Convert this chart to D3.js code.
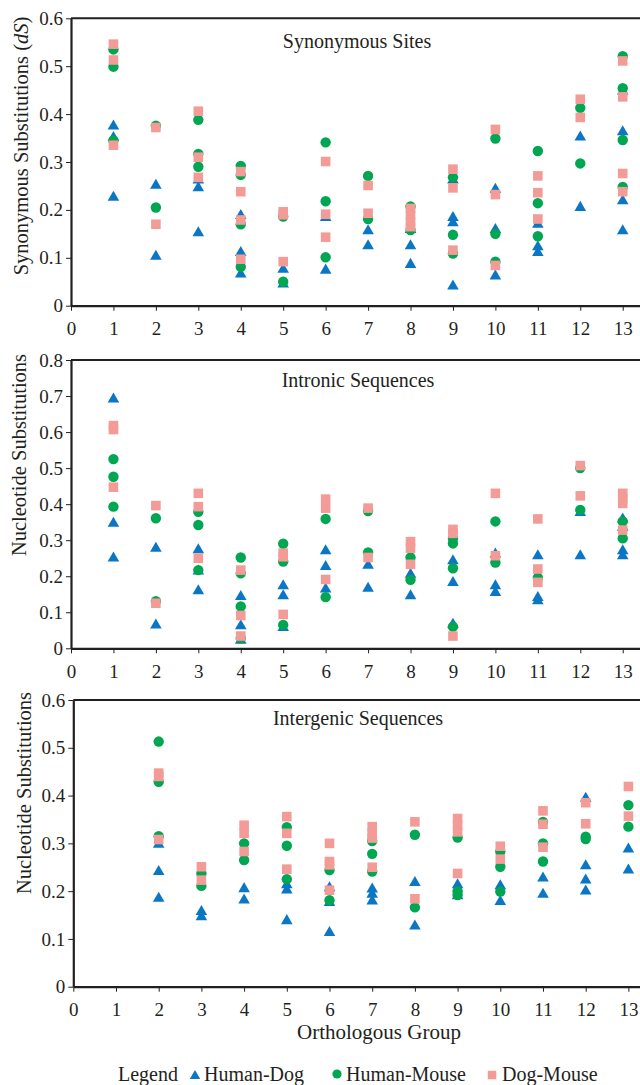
<!DOCTYPE html>
<html><head><meta charset="utf-8">
<script src="https://cdn.jsdelivr.net/npm/d3@7"></script>
<style>
html,body{margin:0;padding:0;background:#fff;}
svg{display:block;font-family:"Liberation Serif","Times New Roman",serif;}
</style></head>
<body>
<svg id="chart" width="640" height="1085"></svg>
<script>
// Orthologous groups (x categories)
const groups = [1,2,3,4,5,6,7,8,9,10,11,12,13];
const xTickValues = [0,1,2,3,4,5,6,7,8,9,10,11,12,13];
const seriesNames = ["Human-Dog","Human-Mouse","Dog-Mouse"];
const panelTitles = ["Synonymous Sites","Intronic Sequences","Intergenic Sequences"];
const yTicksSyn = [0,0.1,0.2,0.3,0.4,0.5,0.6];
const yTicksIntron = [0,0.1,0.2,0.3,0.4,0.5,0.6,0.7,0.8];
const yTicksInter = [0,0.1,0.2,0.3,0.4,0.5,0.6];

// Synonymous sites (dS), values per group 1..13
const synHD = [[0.377,0.353,0.228],[0.253,0.105],[0.264,0.248,0.154],[0.19,0.113,0.068],[0.078,0.047],[0.186,0.076],[0.158,0.127],[0.161,0.127,0.088],[0.264,0.186,0.175,0.043],[0.245,0.161,0.064],[0.172,0.125,0.113],[0.354,0.207],[0.45,0.365,0.221,0.158]];
const synHM = [[0.535,0.499,0.345],[0.376,0.205],[0.388,0.317,0.290],[0.292,0.273,0.170,0.081],[0.186,0.050],[0.341,0.218,0.101],[0.271,0.181],[0.207,0.158],[0.268,0.148,0.109],[0.349,0.150,0.092],[0.323,0.214,0.145],[0.413,0.297],[0.521,0.454,0.346,0.248]];
const synDM = [[0.546,0.513,0.335],[0.372,0.170],[0.406,0.310,0.268],[0.280,0.238,0.179,0.097],[0.196,0.190,0.092],[0.301,0.191,0.143],[0.251,0.193],[0.203,0.189,0.175,0.165],[0.285,0.246,0.116],[0.368,0.232,0.084],[0.271,0.236,0.181],[0.431,0.393],[0.511,0.436,0.276,0.238]];

// Intronic sequences
const intHD = [[0.694,0.349,0.253],[0.280,0.067],[0.276,0.217,0.162],[0.146,0.065,0.025],[0.176,0.148,0.060],[0.273,0.229,0.167],[0.233,0.169],[0.208,0.148],[0.245,0.185,0.069],[0.264,0.176,0.157],[0.259,0.143,0.134],[0.379,0.259],[0.361,0.338,0.273,0.259]];
const intHM = [[0.525,0.476,0.393],[0.361,0.131],[0.379,0.342,0.217],[0.252,0.208,0.116,0.028],[0.290,0.241,0.065],[0.359,0.142],[0.381,0.266],[0.252,0.190],[0.305,0.291,0.222,0.060],[0.352,0.238],[0.196],[0.500,0.384],[0.352,0.305]];
const intDM = [[0.618,0.607,0.447],[0.396,0.125],[0.430,0.393,0.250],[0.217,0.091,0.034],[0.264,0.254,0.094],[0.414,0.389,0.191],[0.389,0.252],[0.296,0.278,0.233],[0.330,0.319,0.034],[0.430,0.257],[0.359,0.220,0.183],[0.507,0.423],[0.430,0.416,0.402,0.328]];

// Intergenic sequences
const igHD = [[],[0.300,0.243,0.187],[0.159,0.148],[0.207,0.183],[0.215,0.204,0.140],[0.209,0.178,0.115],[0.206,0.195,0.181],[0.220,0.129],[0.215,0.192],[0.213,0.180],[0.229,0.195],[0.396,0.255,0.225,0.202],[0.290,0.246]];
const igHM = [[],[0.513,0.429,0.315],[0.237,0.211],[0.300,0.265],[0.334,0.295,0.225],[0.244,0.181],[0.305,0.278,0.241],[0.318,0.166],[0.312,0.200,0.192],[0.283,0.251,0.199],[0.345,0.300,0.262],[0.314,0.309],[0.380,0.335]];
const igDM = [[],[0.447,0.440,0.308],[0.251,0.223],[0.338,0.321,0.283],[0.356,0.321,0.246],[0.300,0.262,0.255,0.202],[0.335,0.321,0.311,0.250],[0.345,0.184],[0.352,0.338,0.324,0.237],[0.294,0.267],[0.368,0.340,0.292],[0.385,0.341],[0.419,0.357]];

const colors = {HD:"#0b76c4", HM:"#00a651", DM:"#f29b97"};
const ink = "#231f20";

const panels = [
  {title:panelTitles[0], yLabel:"syn", ticks:yTicksSyn, yMax:0.6, x0:71, step:42.44, yBot:305.7, yTop:18.3,
   data:{HD:synHD,HM:synHM,DM:synDM}, labelX:28, labelY:146, titleX:357, titleY:48, xLabY:11},
  {title:panelTitles[1], yLabel:"Nucleotide Substitutions", ticks:yTicksIntron, yMax:0.8, x0:71, step:42.44, yBot:648.3, yTop:360,
   data:{HD:intHD,HM:intHM,DM:intDM}, labelX:26, labelY:455, titleX:358, titleY:387, xLabY:11},
  {title:panelTitles[2], yLabel:"Nucleotide Substitutions", ticks:yTicksInter, yMax:0.6, x0:73.3, step:42.7, yBot:986.7, yTop:700,
   data:{HD:igHD,HM:igHM,DM:igDM}, labelX:31, labelY:793, titleX:358, titleY:725, xLabY:11}
];

const svg = d3.select("#chart");
const triPath = d3.symbol().type(d3.symbolTriangle).size(58);
const sqPath = d3.symbol().type(d3.symbolSquare).size(92);

function flatten(arr){
  const out=[];
  arr.forEach((vals,i)=>vals.forEach(v=>out.push({g:groups[i],v:v})));
  return out;
}

panels.forEach(p=>{
  const x = d3.scaleLinear().domain([0,14]).range([p.x0, p.x0+14*p.step]);
  const y = d3.scaleLinear().domain([0,p.yMax]).range([p.yBot,p.yTop]);
  const g = svg.append("g");

  // top frame line
  g.append("line").attr("x1",p.x0).attr("x2",645).attr("y1",p.yTop).attr("y2",p.yTop)
    .attr("stroke",ink).attr("stroke-width",2);

  const ya = g.append("g").attr("transform",`translate(${p.x0},0)`)
    .call(d3.axisLeft(y).tickValues(p.ticks).tickSize(5).tickSizeOuter(0).tickPadding(3)
      .tickFormat(d=> d===0 ? "0" : d3.format(".1f")(d)));
  const xa = g.append("g").attr("transform",`translate(0,${p.yBot})`)
    .call(d3.axisBottom(x).tickValues(xTickValues).tickSize(5).tickSizeOuter(0).tickPadding(p.xLabY)
      .tickFormat(d3.format("d")));
  [ya,xa].forEach(a=>{
    a.select(".domain").attr("stroke",ink).attr("stroke-width",2.2);
    a.selectAll(".tick line").attr("stroke",ink).attr("stroke-width",1);
    a.selectAll(".tick text").attr("fill",ink).style("font-size","19px")
      .style("font-family","'Liberation Serif','Times New Roman',serif");
  });

  // y-axis label
  const lab = g.append("text").attr("transform",`translate(${p.labelX},${p.labelY}) rotate(-90)`)
    .attr("text-anchor","middle").attr("fill",ink).style("font-size","20.5px");
  if(p.yLabel==="syn"){
    lab.append("tspan").text("Synonymous Substitutions (");
    lab.append("tspan").style("font-style","italic").text("dS");
    lab.append("tspan").text(")");
  } else lab.text(p.yLabel);

  // panel title
  g.append("text").attr("x",p.titleX).attr("y",p.titleY).attr("text-anchor","middle")
    .attr("fill",ink).style("font-size","20px").text(p.title);

  // markers: triangles, circles, squares
  g.selectAll("path.hd").data(flatten(p.data.HD)).join("path").attr("class","hd")
    .attr("d",triPath).attr("transform",d=>`translate(${x(d.g)},${y(d.v)+1})`).attr("fill",colors.HD);
  g.selectAll("circle.hm").data(flatten(p.data.HM)).join("circle").attr("class","hm")
    .attr("cx",d=>x(d.g)).attr("cy",d=>y(d.v)).attr("r",5.2).attr("fill",colors.HM);
  g.selectAll("path.dm").data(flatten(p.data.DM)).join("path").attr("class","dm")
    .attr("d",sqPath).attr("transform",d=>`translate(${x(d.g)},${y(d.v)})`).attr("fill",colors.DM);
});

// x-axis title
svg.append("text").attr("x",379).attr("y",1039).attr("text-anchor","middle").attr("fill",ink)
  .style("font-size","21px").text("Orthologous Group");

// legend
const lg = svg.append("g").style("font-size","20px").attr("fill",ink);
lg.append("text").attr("x",118).attr("y",1081).attr("fill",ink).text("Legend");
const legendItems = [
  {name:seriesNames[0], key:"HD", mx:195, tx:204},
  {name:seriesNames[1], key:"HM", mx:337, tx:346},
  {name:seriesNames[2], key:"DM", mx:492, tx:502}
];
legendItems.forEach(it=>{
  if(it.key==="HD") lg.append("path").attr("d",d3.symbol().type(d3.symbolTriangle).size(48)).attr("transform",`translate(${it.mx},${1076})`).attr("fill",colors.HD);
  if(it.key==="HM") lg.append("circle").attr("cx",it.mx).attr("cy",1074).attr("r",4.6).attr("fill",colors.HM);
  if(it.key==="DM") lg.append("path").attr("d",d3.symbol().type(d3.symbolSquare).size(72)).attr("transform",`translate(${it.mx},${1075})`).attr("fill",colors.DM);
  lg.append("text").attr("x",it.tx).attr("y",1081).attr("fill",ink).text(it.name);
});
</script>
</body></html>
